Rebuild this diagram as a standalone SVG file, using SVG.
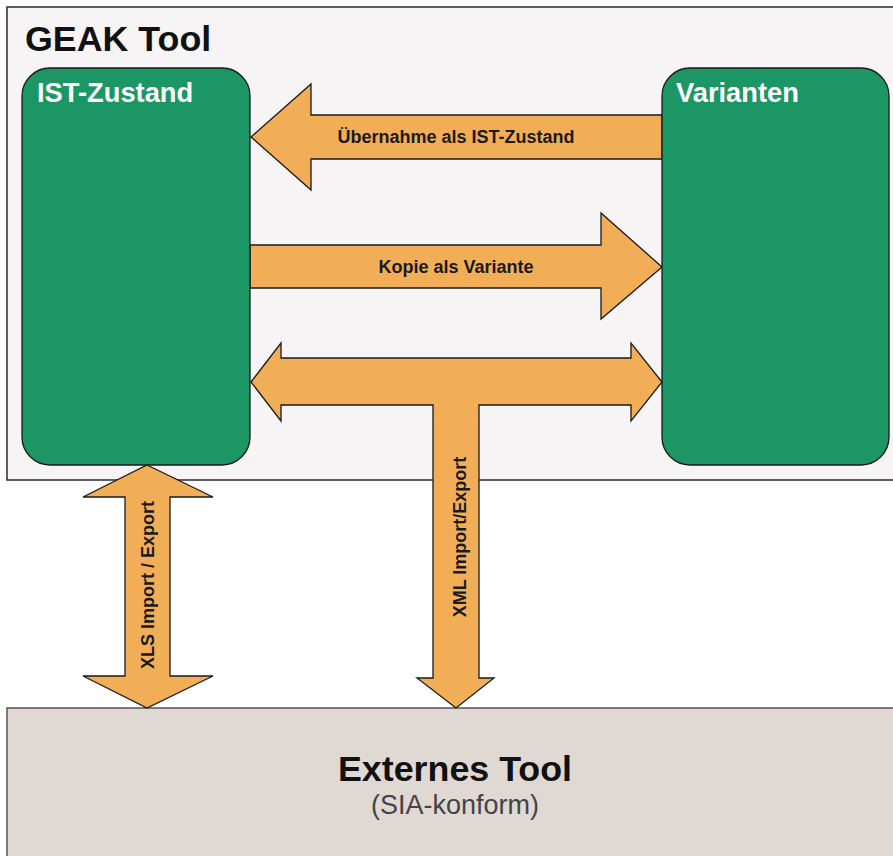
<svg xmlns="http://www.w3.org/2000/svg" width="893" height="856" viewBox="0 0 893 856">
<style>
.arrow{fill:#F2AE57;stroke:#1a1a1a;stroke-width:1.3;stroke-linejoin:miter}
.box{fill:#1B9664;stroke:#1a1a1a;stroke-width:1.3}
.boxlabel{font-family:"Liberation Sans",Arial,sans-serif;font-weight:bold;font-size:27.3px;fill:#ffffff}
.alabel{font-family:"Liberation Sans",Arial,sans-serif;font-weight:bold;font-size:18px;fill:#1a1a1a}
.title{font-family:"Liberation Sans",Arial,sans-serif;font-weight:bold;font-size:35.8px;fill:#111111}
</style>
<rect width="893" height="856" fill="#ffffff"/>
<g id="geak-tool">
<rect x="7" y="7" width="900" height="473" fill="#F6F4F5" stroke="#2a2a2a" stroke-width="1.5"/>
<text class="title" x="25" y="51">GEAK Tool</text>
</g>
<g id="externes-tool">
<rect x="7" y="708" width="900" height="160" fill="#E0D8D3" stroke="#555555" stroke-width="1.5"/>
<text class="title" x="455" y="781" text-anchor="middle">Externes Tool</text>
<text x="455" y="814" text-anchor="middle" font-family="'Liberation Sans',Arial,sans-serif" font-size="27" fill="#444444">(SIA-konform)</text>
</g>
<g id="connectors">
<g id="uebernahme">
<path class="arrow" d="M662,115 L311,115 L311,84 L251,137 L311,190 L311,159 L662,159 Z"/>
<text class="alabel" x="456" y="143" text-anchor="middle">Übernahme als IST-Zustand</text>
</g>
<g id="kopie">
<path class="arrow" d="M250,245 L601,245 L601,213 L662,267 L601,319 L601,288 L250,288 Z"/>
<text class="alabel" x="456" y="273" text-anchor="middle">Kopie als Variante</text>
</g>
<g id="xml">
<path class="arrow" d="M251,382 L281,343 L281,358 L631,358 L631,343 L662,382 L631,421 L631,405 L479,405 L479,678 L494,678 L456,708 L417,678 L433,678 L433,405 L281,405 L281,421 Z"/>
<text class="alabel" transform="translate(459,537) rotate(-90)" x="0" y="6.5" text-anchor="middle">XML Import/Export</text>
</g>
<g id="xls">
<path class="arrow" d="M147,465 L213,497 L170,497 L170,676 L213,676 L147,708 L83,676 L125,676 L125,497 L83,497 Z"/>
<text class="alabel" transform="translate(147,585) rotate(-90)" x="0" y="6.5" text-anchor="middle">XLS Import / Export</text>
</g>
</g>
<g id="ist-zustand">
<rect class="box" x="22" y="68" width="228" height="397" rx="28" ry="28"/>
<text class="boxlabel" x="37" y="102">IST-Zustand</text>
</g>
<g id="varianten">
<rect class="box" x="662" y="68" width="227" height="397" rx="28" ry="28"/>
<text class="boxlabel" x="676" y="102">Varianten</text>
</g>
</svg>
